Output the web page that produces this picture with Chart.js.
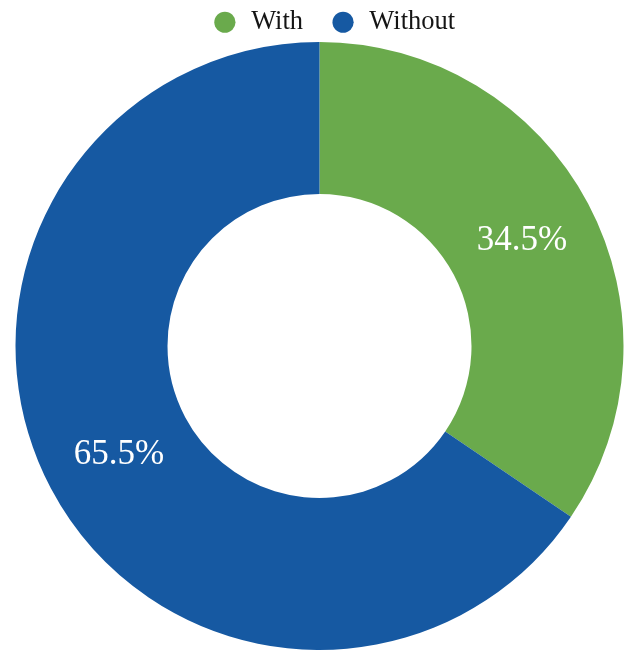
<!DOCTYPE html>
<html lang="en">
<head>
    <meta charset="UTF-8">
    <title>With / Without</title>
    <script src="https://cdn.jsdelivr.net/npm/chart.js"></script>
    <style>
        html, body { margin: 0; padding: 0; background: #fff; }
        #wrap { width: 629px; height: 650px; }
    </style>
</head>
<body>
    <div id="wrap"><canvas id="donut"></canvas></div>

    <script>
        // data
        const labels = ['With', 'Without'];
        const shares = [34.5, 65.5];
        const colors = ['#6aaa4c', '#1659a2'];

        // draws the percentage in the middle of each slice
        const sliceLabels = {
            id: 'sliceLabels',
            afterDatasetsDraw(chart) {
                const ctx = chart.ctx;
                const meta = chart.getDatasetMeta(0);
                ctx.save();
                ctx.fillStyle = '#ffffff';
                ctx.font = '35px "Liberation Serif", "DejaVu Serif", serif';
                ctx.textAlign = 'center';
                ctx.textBaseline = 'middle';
                meta.data.forEach((arc, i) => {
                    const p = arc.tooltipPosition();
                    ctx.fillText(shares[i].toFixed(1) + '%', p.x + 1, p.y + 2);
                });
                ctx.restore();
            }
        };

        // keep the legend strip short even with wide item spacing,
        // and nudge it a little right like in the original
        const legendHeight = {
            id: 'legendHeight',
            afterInit(chart) {
                const lg = chart.legend;
                if (!lg) return;
                const fit = lg.fit;
                lg.fit = function () {
                    fit.call(this);
                    this.height = 42;
                };
                const inner = lg._draw;
                lg._draw = function () {
                    const c = this.ctx;
                    c.save();
                    c.translate(14, -18);
                    inner.apply(this, arguments);
                    c.restore();
                };
            }
        };

        new Chart(document.getElementById('donut'), {
            type: 'doughnut',
            data: {
                labels: labels,
                datasets: [{
                    data: shares,
                    backgroundColor: colors,
                    borderWidth: 0
                }]
            },
            options: {
                responsive: true,
                maintainAspectRatio: false,
                animation: false,
                cutout: '50%',
                layout: { padding: { left: 10, right: 0, top: 0, bottom: 0 } },
                plugins: {
                    tooltip: { enabled: false },
                    legend: {
                        position: 'top',
                        labels: {
                            usePointStyle: true,
                            pointStyle: 'circle',
                            boxWidth: 26,
                            boxHeight: 15,
                            padding: 27,
                            color: '#151515',
                            font: { family: '"Liberation Serif", "DejaVu Serif", serif', size: 26.5 }
                        }
                    }
                }
            },
            plugins: [sliceLabels, legendHeight]
        });
    </script>
</body>
</html>
